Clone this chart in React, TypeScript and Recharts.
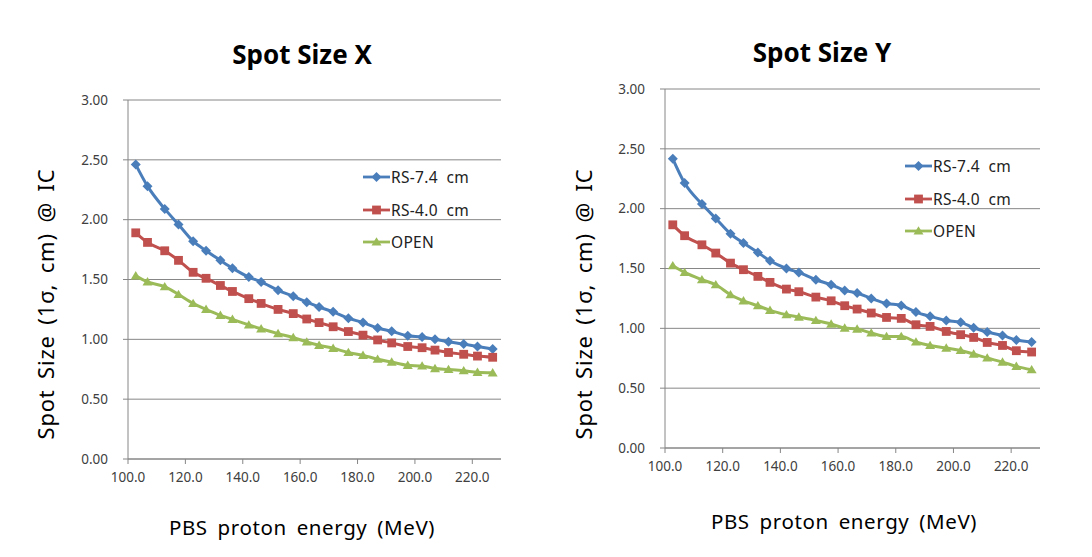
import React from 'react';
import { LineChart, Line, XAxis, YAxis, CartesianGrid } from 'recharts';

// ---- data ----
const energies = [102.7, 106.8, 112.8, 117.6, 122.7, 127.2, 132.2, 136.4, 142.1, 146.4, 152.3, 157.6, 162.3, 166.6, 171.5, 176.8, 181.9, 187.0, 191.9, 197.5, 202.5, 207.0, 211.7, 217.0, 221.8, 227.1];

const seriesNames = ['RS-7.4 cm', 'RS-4.0 cm', 'OPEN'];

const xRs74 = [2.46, 2.28, 2.09, 1.96, 1.82, 1.74, 1.66, 1.595, 1.52, 1.48, 1.41, 1.36, 1.31, 1.27, 1.23, 1.176, 1.14, 1.095, 1.067, 1.03, 1.02, 1.0, 0.98, 0.96, 0.94, 0.92];
const xRs40 = [1.89, 1.81, 1.74, 1.66, 1.56, 1.51, 1.45, 1.4, 1.34, 1.3, 1.25, 1.215, 1.17, 1.14, 1.105, 1.065, 1.035, 0.995, 0.97, 0.94, 0.93, 0.91, 0.89, 0.875, 0.86, 0.85];
const xOpen = [1.53, 1.48, 1.44, 1.375, 1.3, 1.25, 1.2, 1.167, 1.12, 1.088, 1.048, 1.015, 0.978, 0.95, 0.925, 0.89, 0.866, 0.834, 0.81, 0.783, 0.777, 0.756, 0.748, 0.738, 0.724, 0.72];

const yRs74 = [2.417, 2.214, 2.038, 1.918, 1.79, 1.713, 1.634, 1.565, 1.5, 1.467, 1.406, 1.364, 1.317, 1.295, 1.25, 1.208, 1.191, 1.136, 1.1, 1.066, 1.05, 1.005, 0.969, 0.941, 0.902, 0.886];
const yRs40 = [1.865, 1.774, 1.698, 1.629, 1.545, 1.49, 1.434, 1.384, 1.328, 1.306, 1.261, 1.23, 1.189, 1.161, 1.128, 1.091, 1.083, 1.03, 1.016, 0.974, 0.947, 0.924, 0.882, 0.857, 0.813, 0.802];
const yOpen = [1.523, 1.467, 1.406, 1.364, 1.281, 1.23, 1.189, 1.15, 1.114, 1.094, 1.066, 1.036, 1.002, 0.994, 0.961, 0.932, 0.932, 0.886, 0.857, 0.835, 0.815, 0.785, 0.752, 0.718, 0.682, 0.654];

const xTicks = [100, 120, 140, 160, 180, 200, 220];
const yTicks = [0, 0.5, 1.0, 1.5, 2.0, 2.5, 3.0];

const titles = ['Spot Size X', 'Spot Size Y'];
const xTitle = 'PBS proton energy (MeV)';
const yTitle = 'Spot Size (1σ, cm) @ IC';

// ---- styling ----
const COLORS = ['#4A7EBB', '#C0504D', '#9BBB59'];
const FONT = '"Noto Sans", "Noto Sans CJK KR", sans-serif';
const GRID = '#868686';

const build = (a: number[], b: number[], c: number[]) =>
  energies.map((e, i) => ({ e, s0: a[i], s1: b[i], s2: c[i] }));

const dataX = build(xRs74, xRs40, xOpen);
const dataY = build(yRs74, yRs40, yOpen);

const Marker = ({ kind, cx, cy, color }: { kind: number; cx: number; cy: number; color: string }) => {
  if (cx == null || cy == null) return null;
  if (kind === 0) {
    const r = 5;
    return <path d={`M${cx},${cy - r}L${cx + r},${cy}L${cx},${cy + r}L${cx - r},${cy}Z`} fill={color} />;
  }
  if (kind === 1) {
    const s = 4.4;
    return <rect x={cx - s} y={cy - s} width={2 * s} height={2 * s} fill={color} />;
  }
  const h = 4.8;
  return <path d={`M${cx},${cy - h}L${cx + 5},${cy + h * 0.75}L${cx - 5},${cy + h * 0.75}Z`} fill={color} />;
};

const makeDot = (kind: number) => (props: any) => (
  <Marker key={`d${kind}-${props.index}`} kind={kind} cx={props.cx} cy={props.cy} color={COLORS[kind]} />
);

const LegendBox = ({ left, top }: { left: number; top: number }) => (
  <div style={{ position: 'absolute', left, top }}>
    {seriesNames.map((n, i) => (
      <div key={n} style={{ display: 'flex', alignItems: 'center', height: 32.5 }}>
        <svg width={27} height={12} style={{ display: 'block' }}>
          <line x1={0} y1={6} x2={27} y2={6} stroke={COLORS[i]} strokeWidth={2.8} />
          <Marker kind={i} cx={13.5} cy={6} color={COLORS[i]} />
        </svg>
        <span style={{ fontFamily: FONT, fontSize: 15.5, letterSpacing: 0.3, color: '#222', marginLeft: 1, lineHeight: '16px', whiteSpace: 'pre' }}>{n.replace(' ', '  ')}</span>
      </div>
    ))}
  </div>
);

type PanelProps = {
  left: number;
  data: any[];
  margin: { top: number; right: number; bottom: number; left: number };
  title: string;
  titleX: number;
  titleY: number;
  xTitleX: number;
  xTitleY: number;
  yTitleX: number;
  yTitleY: number;
  legendLeft: number;
  legendTop: number;
};

const Panel = (p: PanelProps) => (
  <div style={{ position: 'absolute', left: p.left, top: 0, width: 546, height: 557 }}>
    <LineChart width={546} height={557} data={p.data} margin={p.margin}>
      <CartesianGrid vertical={false} stroke={GRID} strokeWidth={1} />
      <XAxis
        dataKey="e"
        type="number"
        domain={[100, 230]}
        ticks={xTicks}
        allowDataOverflow
        tickFormatter={(v: number) => v.toFixed(1)}
        stroke={GRID}
        tickSize={5}
        tickMargin={8}
        height={30}
        tick={{ fill: '#404040', fontSize: 13.5, fontFamily: FONT }}
      />
      <YAxis
        type="number"
        domain={[0, 3]}
        ticks={yTicks}
        tickFormatter={(v: number) => v.toFixed(2)}
        stroke={GRID}
        tickSize={5}
        tickMargin={15}
        width={60}
        tick={{ fill: '#404040', fontSize: 13.5, fontFamily: FONT }}
      />
      {[0, 1, 2].map((k) => (
        <Line
          key={k}
          type="monotone"
          dataKey={`s${k}`}
          name={seriesNames[k]}
          stroke={COLORS[k]}
          strokeWidth={3}
          dot={makeDot(k)}
          activeDot={false}
          isAnimationActive={false}
        />
      ))}
    </LineChart>
    <div
      style={{
        position: 'absolute', left: p.titleX, top: p.titleY, transform: 'translate(-50%, -50%)',
        fontFamily: FONT, fontWeight: 700, fontSize: 26, color: '#000', whiteSpace: 'nowrap',
      }}
    >
      {p.title}
    </div>
    <div
      style={{
        position: 'absolute', left: p.xTitleX, top: p.xTitleY, transform: 'translate(-50%, -50%)',
        fontFamily: FONT, fontSize: 20.5, letterSpacing: 0.6, wordSpacing: 4, color: '#000', whiteSpace: 'nowrap',
      }}
    >
      {xTitle}
    </div>
    <div
      style={{
        position: 'absolute', left: p.yTitleX, top: p.yTitleY, transform: 'translate(-50%, -50%) rotate(-90deg)',
        fontFamily: FONT, fontSize: 22, letterSpacing: 0.8, wordSpacing: 4, color: '#000', whiteSpace: 'nowrap',
      }}
    >
      {yTitle}
    </div>
    <LegendBox left={p.legendLeft} top={p.legendTop} />
  </div>
);

export default function App() {
  return (
    <div style={{ position: 'absolute', left: 0, top: 0, width: 1092, height: 557, background: '#fff', overflow: 'hidden' }}>
      <Panel
        left={0}
        data={dataX}
        margin={{ top: 100, right: 45, bottom: 68, left: 68 }}
        title={titles[0]}
        titleX={302}
        titleY={54}
        xTitleX={302}
        xTitleY={527}
        yTitleX={45}
        yTitleY={304}
        legendLeft={363}
        legendTop={161}
      />
      <Panel
        left={546}
        data={dataY}
        margin={{ top: 89, right: 52, bottom: 79, left: 59 }}
        title={titles[1]}
        titleX={276}
        titleY={52}
        xTitleX={298}
        xTitleY={521}
        yTitleX={37}
        yTitleY={304}
        legendLeft={359}
        legendTop={150}
      />
    </div>
  );
}
